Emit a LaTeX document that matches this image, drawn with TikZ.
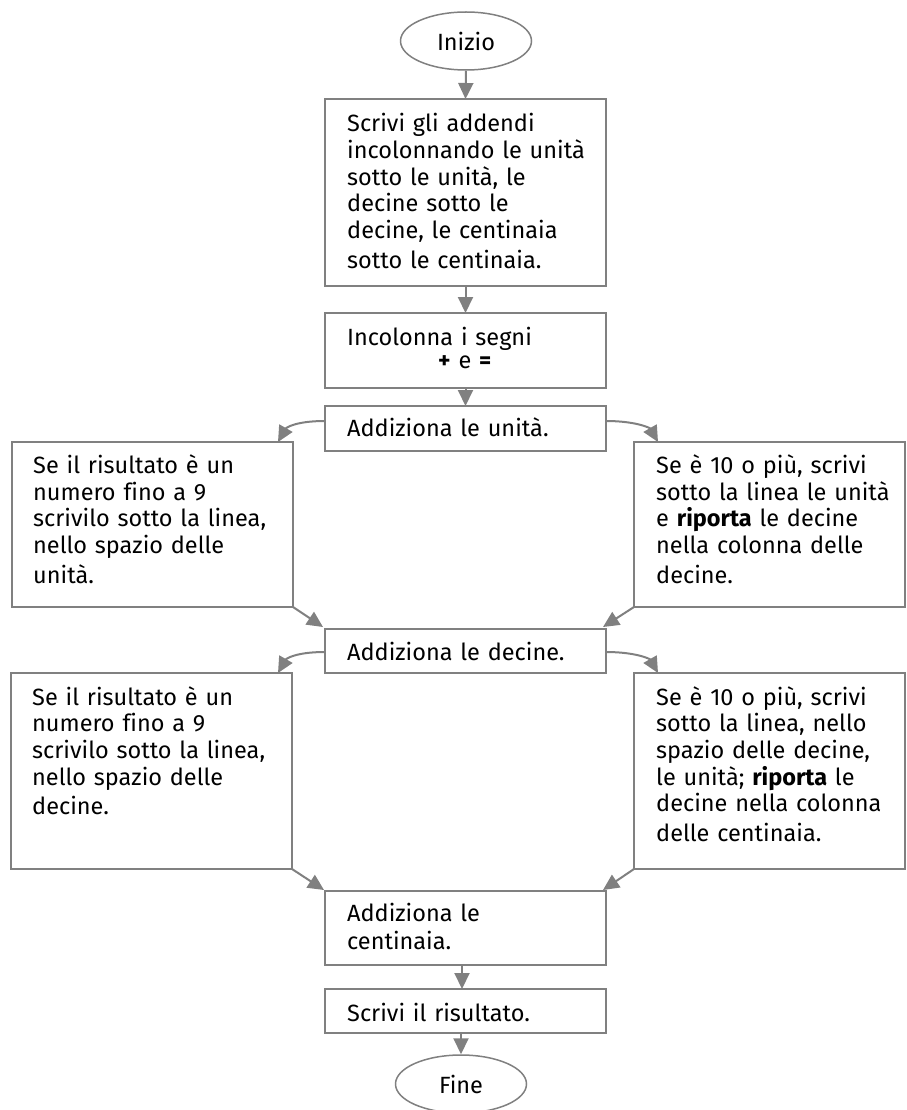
\documentclass[tikz,border=0pt]{standalone}
\usepackage{fontspec}
\setmainfont[Ligatures=NoCommon]{Fira Sans}
\usetikzlibrary{shapes.geometric,arrows.meta}
\definecolor{linegray}{RGB}{128,128,128}
\newcommand{\fs}{\fontsize{23.5}{26.7}\selectfont}
\tikzset{
  box/.style={draw=linegray, line width=1.8pt, rectangle, inner sep=0pt, outer sep=0pt, anchor=north west},
  term/.style={draw=linegray, line width=1.5pt, ellipse, minimum width=131pt, minimum height=58pt, inner sep=0pt, font=\fs},
  txt/.style={anchor=base west, align=left, text width=262pt, inner sep=0pt, font=\fs},
  arr/.style={draw=linegray, line width=2pt, -{Triangle[length=16pt,width=15pt]}},
}
\begin{document}
\begin{tikzpicture}[x=1pt,y=1pt]
\path[use as bounding box] (0,0) rectangle (906,-1110);

% terminals
\node[term] (ini) at (466,-41) {Inizio};
\node[term] (fin) at (461,-1084) {Fine};

% boxes
\node[box, minimum width=281pt, minimum height=187pt] (b1) at (325,-99) {};
\node[box, minimum width=281pt, minimum height=75pt] (b2) at (325,-313) {};
\node[box, minimum width=281pt, minimum height=45pt] (b3) at (325,-406) {};
\node[box, minimum width=281pt, minimum height=165pt] (L1) at (12,-442) {};
\node[box, minimum width=271pt, minimum height=165pt] (R1) at (634,-442) {};
\node[box, minimum width=281pt, minimum height=44pt] (b4) at (325,-629) {};
\node[box, minimum width=281pt, minimum height=196pt] (L2) at (11,-673) {};
\node[box, minimum width=271pt, minimum height=196pt] (R2) at (634,-673) {};
\node[box, minimum width=281pt, minimum height=74pt] (b5) at (325,-891) {};
\node[box, minimum width=281pt, minimum height=44pt] (b6) at (325,-989) {};

% texts
\node[txt] (t1) at (347,-131.7) {Scrivi gli addendi\\incolonnando le unità\\sotto le unità, le\\decine sotto le\\decine, le centinaia\\[3pt]sotto le centinaia.};
\node[txt] (t2) at (347,-345) {Incolonna i segni\\[-3pt]\hspace*{91pt}\textbf{+} e \textbf{=}};
\node[txt] (t3) at (347,-436) {Addiziona le unità.};
\node[txt] (tL1) at (33,-473.3) {Se il risultato è un\\numero fino a 9\\scrivilo sotto la linea,\\nello spazio delle\\[3pt]unità.};
\node[txt] (tR1) at (656,-473.3) {Se è 10 o più, scrivi\\sotto la linea le unità\\e \textbf{riporta} le decine\\nella colonna delle\\[3pt]decine.};
\node[txt] (t4) at (347,-660) {Addiziona le decine.};
\node[txt] (tL2) at (32,-705) {Se il risultato è un\\numero fino a 9\\scrivilo sotto la linea,\\nello spazio delle\\[3pt]decine.};
\node[txt] (tR2) at (656,-705) {Se è 10 o più, scrivi\\sotto la linea, nello\\spazio delle decine,\\le unità; \textbf{riporta} le\\decine nella colonna\\[3pt]delle centinaia.};
\node[txt] (t5) at (347,-921.7) {Addiziona le\\[1pt]centinaia.};
\node[txt] (t6) at (347,-1021) {Scrivi il risultato.};

% straight arrows
\draw[arr] (ini.south) -- (b1.north);
\draw[arr] (b1.south) -- (b2.north);
\draw[arr] (b2.south) -- (b3.north);
\draw[arr] ([xshift=-3.5pt]b5.south) -- ([xshift=-3.5pt]b6.north);
\draw[arr] (fin.north |- b6.south) -- (fin.north);

% curved arrows
\draw[arr] ([yshift=7.5pt]b3.west) .. controls +(-30,0) and +(8,14) .. ([xshift=-15pt]L1.north east);
\draw[arr] ([yshift=7.5pt]b3.east) .. controls +(30,0) and +(-8,14) .. ([xshift=24pt]R1.north west);
\draw[arr] ([yshift=-1pt]b4.west) .. controls +(-30,0) and +(8,14) .. ([xshift=-14pt]L2.north east);
\draw[arr] ([yshift=-1pt]b4.east) .. controls +(30,0) and +(-8,14) .. ([xshift=24pt]R2.north west);

% diagonal arrows
\draw[arr] (L1.south east) -- ([xshift=-2pt,yshift=2pt]b4.north west);
\draw[arr] (R1.south west) -- ([xshift=-3pt,yshift=2pt]b4.north east);
\draw[arr] (L2.south east) -- ([xshift=-1pt,yshift=1pt]b5.north west);
\draw[arr] (R2.south west) -- ([xshift=-3pt,yshift=1pt]b5.north east);
\end{tikzpicture}
\end{document}
